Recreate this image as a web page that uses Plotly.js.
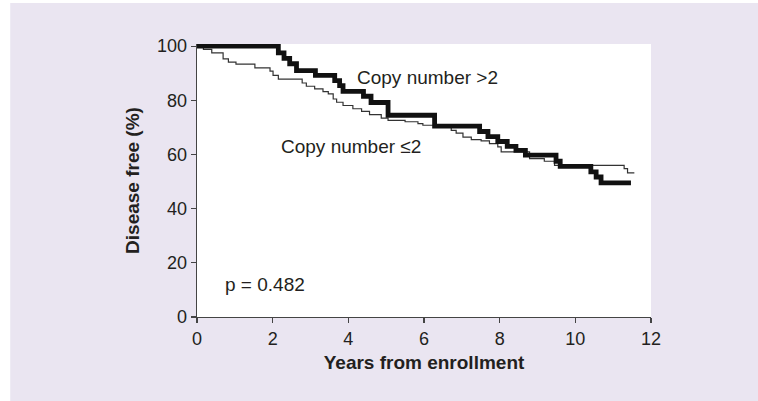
<!DOCTYPE html>
<html>
<head>
<meta charset="utf-8">
<script src="https://cdn.plot.ly/plotly-3.0.1.min.js"></script>
<style>html,body{margin:0;padding:0;background:#fff;}#chart{width:758px;height:401px;}</style>
</head>
<body>
<div id="chart"></div>
<script>
// Copy number >2 (thick curve): step times (years) and disease-free %
const highYears = [0, 2.15, 2.3, 2.45, 2.63, 3.13, 3.64, 3.77, 3.86, 4.4, 4.6, 5.05, 6.28, 7.47, 7.69, 7.95, 8.2, 8.43, 8.68, 9.49, 9.6, 10.41, 10.55, 10.68, 11.47];
const highFree  = [100, 97.5, 95.5, 93.5, 91, 89.2, 87.3, 85.4, 83.3, 81.5, 79.2, 74.5, 70.5, 68.5, 66.6, 64.8, 63, 61.5, 59.8, 57.5, 55.6, 53.6, 51.7, 49.5, 49.5];

// Copy number <=2 (thin curve)
const lowYears = [0, 0.17, 0.39, 0.69, 0.83, 1.03, 1.53, 1.93, 2.01, 2.15, 2.78, 2.89, 3.11, 3.33, 3.47, 3.6, 3.69, 3.86, 4.12, 4.35, 4.56, 4.87, 5.05, 5.5, 5.84, 5.97, 6.72, 6.85, 7.03, 7.25, 7.51, 7.73, 7.95, 8.04, 8.79, 9.18, 9.45, 11.29, 11.38, 11.56];
const lowFree  = [100, 98.8, 97.5, 95.3, 94.1, 93.4, 92, 90.8, 89.2, 87.8, 86.4, 85.2, 84.2, 83.2, 82.4, 80.5, 79.3, 78.1, 76.9, 75.9, 74.7, 73.4, 72.6, 72.1, 71.4, 70.8, 68.9, 67.9, 66.4, 65.5, 65, 64, 62.8, 61, 58.5, 57.5, 56, 54.8, 53.2, 53.2];

const xTicks = [0, 2, 4, 6, 8, 10, 12];
const yTicks = [0, 20, 40, 60, 80, 100];
const labelHigh = 'Copy number >2';
const labelLow = 'Copy number ≤2';
const pLabel = 'p = 0.482';

const FONT = 'Liberation Sans, Arial, Helvetica, sans-serif';
const TXT = '#231f20';

const traces = [
  {x: lowYears, y: lowFree, type: 'scatter', mode: 'lines', line: {shape: 'hv', color: '#333333', width: 1.2}, name: labelLow, showlegend: false, hoverinfo: 'skip'},
  {x: highYears, y: highFree, type: 'scatter', mode: 'lines', line: {shape: 'hv', color: '#111111', width: 4.8}, name: labelHigh, showlegend: false, hoverinfo: 'skip'}
];

const layout = {
  width: 758, height: 401,
  margin: {l: 197, r: 106.5, t: 44, b: 83.5, pad: 0},
  paper_bgcolor: '#ffffff',
  plot_bgcolor: '#ffffff',
  font: {family: FONT, color: TXT, size: 18},
  showlegend: false,
  xaxis: {
    range: [0, 12], tickvals: xTicks, ticktext: xTicks.map(String),
    showgrid: false, zeroline: false, showline: true, linecolor: '#444', linewidth: 1.3,
    ticks: 'outside', ticklen: 5, tickwidth: 1.2, tickcolor: '#444',
    tickfont: {family: FONT, size: 18, color: TXT},
    title: {text: 'Years from enrollment', font: {family: FONT, size: 19, color: TXT, weight: 'bold'}, standoff: 7},
    fixedrange: true
  },
  yaxis: {
    range: [0, 100.8], tickvals: yTicks, ticktext: yTicks.map(String),
    showgrid: false, zeroline: false, showline: true, linecolor: '#444', linewidth: 1.3,
    ticks: 'outside', ticklen: 5, tickwidth: 1.2, tickcolor: '#444',
    tickfont: {family: FONT, size: 18, color: TXT},
    title: {text: 'Disease free (%)', font: {family: FONT, size: 19, color: TXT, weight: 'bold'}, standoff: 12},
    fixedrange: true
  },
  shapes: [
    {type: 'rect', xref: 'paper', yref: 'paper', x0: -0.4114, x1: 1.25, y0: -0.32, y1: 1.15, fillcolor: '#eae5f1', line: {width: 0}, layer: 'below'},
    {type: 'rect', xref: 'paper', yref: 'paper', x0: 0, x1: 1, y0: 0, y1: 1, fillcolor: '#ffffff', line: {width: 0}, layer: 'below'}
  ],
  annotations: [
    {x: 4.17, y: 88.4, xref: 'x', yref: 'y', text: labelHigh, showarrow: false, xanchor: 'left', yanchor: 'middle', font: {family: FONT, size: 19, color: TXT}},
    {x: 2.16, y: 63.1, xref: 'x', yref: 'y', text: labelLow, showarrow: false, xanchor: 'left', yanchor: 'middle', font: {family: FONT, size: 19, color: TXT}},
    {x: 0.69, y: 12, xref: 'x', yref: 'y', text: pLabel, showarrow: false, xanchor: 'left', yanchor: 'middle', font: {family: FONT, size: 19, color: TXT}}
  ]
};

Plotly.newPlot('chart', traces, layout, {staticPlot: true, displayModeBar: false});
</script>
</body>
</html>
